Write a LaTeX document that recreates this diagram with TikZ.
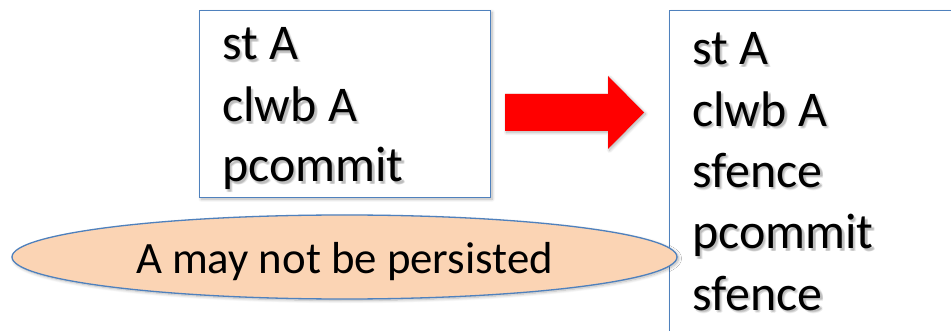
\documentclass[tikz,border=0pt]{standalone}
\usepackage{fontspec}
\setmainfont{Carlito}
\usetikzlibrary{shapes.geometric,shadows.blur}
\definecolor{frameblue}{HTML}{4F81BD}
\definecolor{peach}{HTML}{FBD4B4}
\definecolor{arrowred}{HTML}{FF0000}

% one line of code text with a soft grey shadow behind it
\newcommand\putline[4]{%
  \foreach \dx/\dy in {1.5/2.5,2.5/1.5,2.5/3,3/2.5}{%
    \node[codeline,text=black,opacity=0.07] at ({#2+\dx},{#3+\dy}) {#4};}
  \node[codeline] (#1) at (#2,#3) {#4};}

\begin{document}
\begin{tikzpicture}[x=1pt,y=-1pt,
  softshadow/.style={blur shadow={shadow blur steps=8,shadow blur radius=3pt,
      shadow xshift=1.5pt,shadow yshift=-1.5pt,shadow opacity=30}},
  codebox/.style={draw=frameblue,line width=1.3pt,fill=white,softshadow,
      inner sep=0pt,anchor=north west},
  codeline/.style={anchor=base west,inner sep=0pt,
      font=\fontsize{50}{61}\selectfont},
  notebubble/.style={ellipse,draw=frameblue,fill=peach,line width=1.3pt,
      inner sep=0pt,softshadow},
  notetext/.style={anchor=base,inner sep=0pt,
      font=\fontsize{44.8}{54}\selectfont}]
  \useasboundingbox (0,0) rectangle (951,331);
  \clip (0,0) rectangle (951,331);

  % code before the fix
  \node[codebox,minimum width=291pt,minimum height=187pt] (before) at (199,10) {};
  \putline{b1}{222}{60}{st A}
  \putline{b2}{222}{122}{clwb A}
  \putline{b3}{222}{182}{pcommit}

  % code after the fix
  \node[codebox,minimum width=400pt,minimum height=400pt] (after) at (669,10) {};
  \putline{a1}{692}{65}{st A}
  \putline{a2}{692}{126.25}{clwb A}
  \putline{a3}{692}{187.5}{sfence}
  \putline{a4}{692}{248.75}{pcommit}
  \putline{a5}{692}{310}{sfence}

  % transformation arrow
  \fill[arrowred,softshadow] (505,94) -- (608,94) -- (608,76) -- (644,112.5)
    -- (608,149) -- (608,131) -- (505,131) -- cycle;

  % remark about the original sequence
  \node[notebubble,minimum width=665pt,minimum height=84pt] (note) at (344.5,257) {};
  \node[notetext] (remark) at (344.5,273) {A may not be persisted};
\end{tikzpicture}
\end{document}
